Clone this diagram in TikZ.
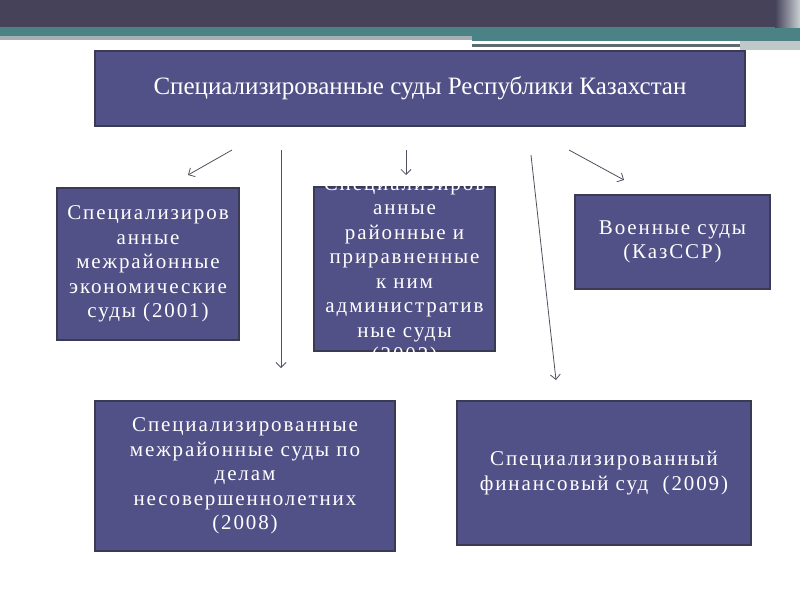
\documentclass[tikz,border=0pt]{standalone}
\usepackage{fontspec}
\setmainfont{Liberation Serif}
\newfontfamily\courtfont[LetterSpace=9]{Liberation Serif}
\usetikzlibrary{arrows.meta,shapes}

\definecolor{bandtop}{HTML}{45425A}
\definecolor{bandteal}{HTML}{4A8286}
\definecolor{bandgray}{HTML}{A6B0B4}
\definecolor{bandline}{HTML}{5F6B70}
\definecolor{boxblue}{HTML}{525187}
\definecolor{boxedge}{HTML}{3A3A52}
\definecolor{linkgray}{HTML}{505060}

\tikzset{
	court/.style={draw=boxedge, line width=1.3pt, fill=boxblue, text=white, align=center, inner sep=0pt,
		font=\courtfont\fontsize{21}{24.5}\selectfont},
	overflow/.style={text=white, align=center, inner sep=0pt, font=\courtfont\fontsize{21}{24.5}\selectfont},
	link/.style={draw=linkgray, line width=0.8pt, -{Straight Barb[length=5pt,width=10pt]}}
}

\begin{document}
\begin{tikzpicture}[x=1pt,y=-1pt]
		\useasboundingbox (0,0) rectangle (800,600);
		% title band
		\fill[bandtop] (0,0) rectangle (800,27);
		\fill[bandteal] (0,27) rectangle (800,36);
		\fill[bandteal] (472,36) rectangle (800,41);
		\fill[bandgray] (0,36) rectangle (472,40);
		\fill[bandline] (472,44) rectangle (740,47);
		\fill[bandgray!70] (740,41) rectangle (800,50);
		\shade[left color=bandtop, right color=bandgray!60] (775,0) rectangle (800,27);
		
		% courts
		\node[court, minimum width=650, minimum height=75, font=\fontsize{25}{28}\selectfont] (kz) at (420,88.5)
			{Специализированные суды Республики Казахстан};
		\node[court, minimum width=182, minimum height=152] (econ) at (148,264)
			{Специализиров\\анные\\межрайонные\\экономические\\суды (2001)};
		\node[court, minimum width=181, minimum height=164] (admin) at (404.5,269) {};
		\node[overflow] (admin-text) at (404.5,271.5)
			{Специализиров\\анные\\районные и\\приравненные\\к ним\\административ\\ные суды\\(2002)};
		\node[court, minimum width=195, minimum height=94] (army) at (672.5,242)
			{Военные суды\\(КазССР)};
		\node[court, minimum width=300, minimum height=150] (juv) at (245,476)
			{Специализированные\\межрайонные суды по\\делам\\несовершеннолетних\\(2008)};
		\node[court, minimum width=294, minimum height=144] (fin) at (604,473)
			{Специализированный\\финансовый суд~ (2009)};
		
		% arrows
		\coordinate (econ-from) at (232,150);
		\coordinate (econ-to) at (188,175);
		\coordinate (juv-from) at (281,150);
		\coordinate (juv-to) at (281,368);
		\coordinate (admin-from) at (406,150);
		\coordinate (admin-to) at (406,175);
		\coordinate (fin-from) at (531,155);
		\coordinate (fin-to) at (556,380);
		\coordinate (army-from) at (569,150);
		\coordinate (army-to) at (624,180);
		\foreach \c in {econ,juv,admin,fin,army}{
			\draw[link] (\c-from) -- (\c-to);
		}
	\end{tikzpicture}
\end{document}
